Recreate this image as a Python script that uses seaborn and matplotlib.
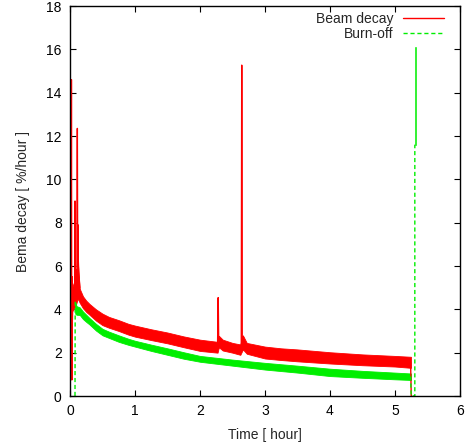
import matplotlib
matplotlib.use("Agg")
import matplotlib.pyplot as plt
import numpy as np
import pandas as pd
import seaborn as sns

# ── Data ─────────────────────────────────────────────────────────────────────
# noisy bands: time [hour], lower / upper envelope [%/hour]
red_band_t = [0.03, 0.08, 0.12, 0.15, 0.20, 0.25, 0.30, 0.40, 0.50, 0.60,
              0.75, 0.90, 1.00, 1.25, 1.50, 1.75, 2.00, 2.27, 2.29, 2.35,
              2.50, 2.62, 2.66, 2.72, 3.00, 3.25, 3.50, 4.00, 4.50, 5.00,
              5.245]
red_band_lo = [3.90, 4.10, 4.50, 4.30, 4.05, 3.88, 3.75, 3.48, 3.27, 3.15,
               3.00, 2.83, 2.74, 2.58, 2.43, 2.25, 2.08, 2.00, 2.25, 2.10,
               2.00, 1.90, 2.15, 1.95, 1.73, 1.66, 1.60, 1.50, 1.42, 1.36,
               1.30]
red_band_hi = [5.00, 5.40, 6.20, 4.95, 4.60, 4.40, 4.25, 4.00, 3.80, 3.65,
               3.50, 3.33, 3.25, 3.08, 2.93, 2.75, 2.60, 2.50, 2.78, 2.60,
               2.45, 2.38, 2.80, 2.45, 2.28, 2.20, 2.15, 2.02, 1.92, 1.85,
               1.81]

green_band_t = [0.08, 0.10, 0.15, 0.20, 0.25, 0.30, 0.40, 0.50, 0.60, 0.75,
                0.90, 1.00, 1.25, 1.50, 1.75, 2.00, 2.50, 3.00, 3.50, 4.00,
                4.50, 5.00, 5.245]
green_band_lo = [3.80, 3.75, 3.74, 3.55, 3.42, 3.30, 3.02, 2.80, 2.68, 2.50,
                 2.36, 2.28, 2.08, 1.90, 1.72, 1.58, 1.40, 1.22, 1.08, 0.92,
                 0.84, 0.77, 0.74]
green_band_hi = [4.35, 4.15, 4.09, 3.90, 3.75, 3.60, 3.33, 3.10, 2.97, 2.80,
                 2.64, 2.55, 2.37, 2.20, 2.02, 1.85, 1.68, 1.53, 1.40, 1.26,
                 1.16, 1.08, 1.04]

green_tail_t = [5.300, 5.324]
green_tail_lo = [11.6, 11.6]
green_tail_hi = [16.1, 16.1]

# spikes and steps outside the bands
red_spike_t = [0.018, 0.022, 0.026, 0.028, 0.032, 0.036, 0.045, 0.055, 0.065,
               0.072, 0.077, 0.082, 0.090, 0.100, 0.106, 0.113, 0.118, 0.122,
               0.127, 0.135, 0.150]
red_spike_v = [4.5, 14.6, 4.0, 0.74, 5.5, 3.5, 4.6, 4.2, 5.0,
               4.8, 9.0, 5.0, 4.6, 5.8, 5.0, 12.35, 6.0, 7.9,
               6.3, 5.6, 5.0]
red_spike2_t = [2.270, 2.280, 2.287, 2.300]
red_spike2_v = [2.30, 4.54, 2.70, 2.50]
red_spike3_t = [2.620, 2.635, 2.642, 2.650, 2.665, 2.690]
red_spike3_v = [1.97, 2.20, 15.27, 2.40, 2.74, 2.30]
red_end_t = [5.240, 5.250]
red_end_v = [1.55, 0.0]

green_start_t = [0.077, 0.080]
green_start_v = [0.0, 4.35]
green_end_t = [5.240, 5.250, 5.305, 5.305]
green_end_v = [0.90, 0.0, 0.0, 11.6]

RED = "#ff0000"
GREEN = "#00ee00"
FS = 10


def segments(parts):
    rows = []
    for i, (t, v) in enumerate(parts):
        for a, b in zip(t, v):
            rows.append({"t": a, "v": b, "seg": i})
    return pd.DataFrame(rows)


sns.set_style("ticks")
plt.rcParams["font.family"] = ["Liberation Sans", "DejaVu Sans"]
plt.rcParams["font.size"] = FS

fig = plt.figure(figsize=(4.67, 4.47), dpi=100)
ax = fig.add_axes([70 / 467, 51 / 447, 390 / 467, 390 / 447])

# ── Beam decay (red) ─────────────────────────────────────────────────────────
ax.fill_between(red_band_t, red_band_lo, red_band_hi, color=RED, lw=0.6,
                edgecolor=RED)
red_df = segments([(red_spike_t, red_spike_v), (red_spike2_t, red_spike2_v),
                   (red_spike3_t, red_spike3_v), (red_end_t, red_end_v)])
sns.lineplot(data=red_df, x="t", y="v", units="seg", estimator=None,
             sort=False, color=RED, lw=1.0, ax=ax, legend=False)

# ── Burn-off (green, dashed) ─────────────────────────────────────────────────
ax.fill_between(green_band_t, green_band_lo, green_band_hi, color=GREEN,
                lw=0.6, edgecolor=GREEN)
ax.fill_between(green_tail_t, green_tail_lo, green_tail_hi, color=GREEN,
                lw=0.4, edgecolor=GREEN)
green_df = segments([(green_start_t, green_start_v), (green_end_t, green_end_v)])
sns.lineplot(data=green_df, x="t", y="v", units="seg", estimator=None,
             sort=False, color=GREEN, lw=1.0, ls=(0, (3, 2)), ax=ax,
             legend=False)

# legend proxies
ax.plot([], [], color=RED, lw=1.0, label="Beam decay")
ax.plot([], [], color=GREEN, lw=1.0, ls=(0, (3, 2)), label="Burn-off")
ax.legend(loc="upper right", markerfirst=False, frameon=False,
          handlelength=3.0, handletextpad=0.7, labelspacing=0.1,
          borderaxespad=0.3, bbox_to_anchor=(0.985, 1.01), fontsize=FS)

ax.set_xlim(0, 6)
ax.set_ylim(0, 18)
ax.set_xticks(range(0, 7))
ax.set_yticks(range(0, 19, 2))
ax.tick_params(direction="in", length=4, width=0.8, top=True, right=True,
               pad=6, colors="black", labelsize=FS)
for sp in ax.spines.values():
    sp.set_visible(True)
    sp.set_linewidth(1.0)
    sp.set_color("black")
ax.set_xlabel("Time [ hour]", fontsize=FS, labelpad=7)
ax.set_ylabel("Bema decay [ %/hour ]", fontsize=FS, labelpad=12)

fig.savefig("out.png", dpi=100)
